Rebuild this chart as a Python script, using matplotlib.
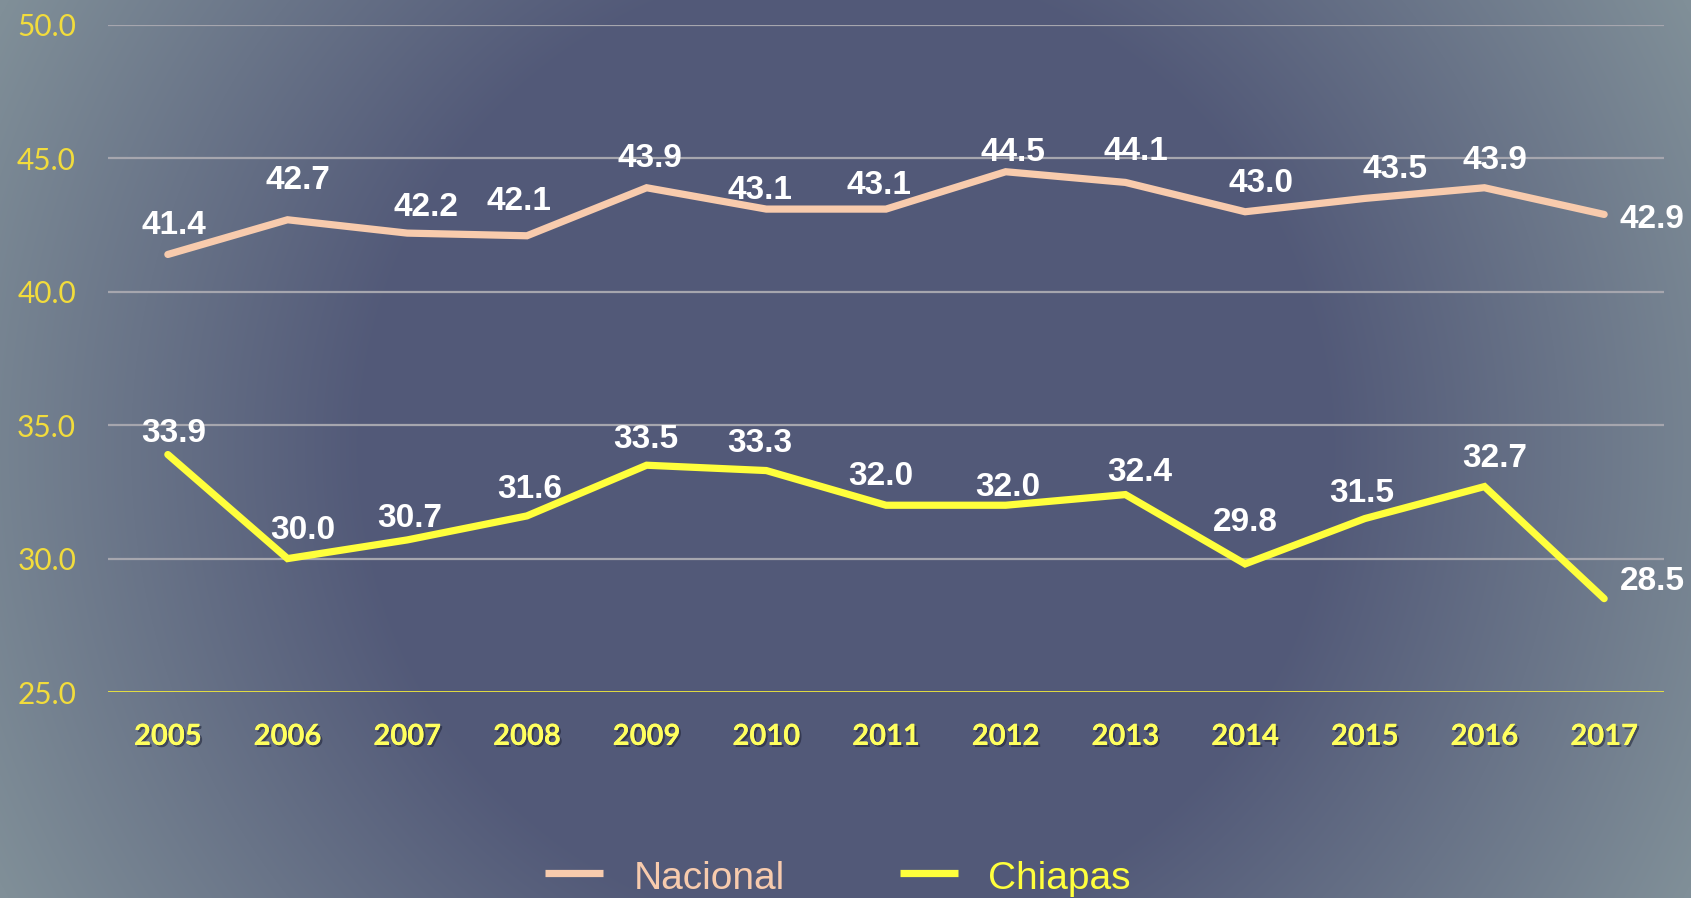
import numpy as np
import matplotlib
matplotlib.use("Agg")
import matplotlib.pyplot as plt
import matplotlib.patheffects as pe
from matplotlib.lines import Line2D

years = ["2005", "2006", "2007", "2008", "2009", "2010", "2011", "2012",
         "2013", "2014", "2015", "2016", "2017"]
nacional = [41.4, 42.7, 42.2, 42.1, 43.9, 43.1, 43.1, 44.5, 44.1, 43.0, 43.5, 43.9, 42.9]
chiapas = [33.9, 30.0, 30.7, 31.6, 33.5, 33.3, 32.0, 32.0, 32.4, 29.8, 31.5, 32.7, 28.5]
yticks = [25.0, 30.0, 35.0, 40.0, 45.0, 50.0]
series_names = ["Nacional", "Chiapas"]

# label placement offsets (pixels, centre of label relative to point; y down)
nac_dx = [6, 10, 19, -8, 3, -6, -7, 7, 10, 16, 30, 10, 15]
nac_dy = [-32, -43, -29, -38, -33, -22, -27, -23, -34, -32, -32, -31, 2]
chi_dx = [6, 15, 2, 3, -1, -7, -5, 2, 14, 0, -3, 10, 16]
chi_dy = [-25, -32, -25, -30, -29, -31, -32, -21, -26, -45, -29, -32, -21]

W, H = 1691, 898
fig = plt.figure(figsize=(W / 100, H / 100), dpi=100)

# background radial gradient
bg = fig.add_axes([0, 0, 1, 1], zorder=-10)
yy, xx = np.mgrid[0:H, 0:W]
d = np.hypot(xx - W * 0.5, yy - H * 0.5)
t = np.clip((d - 480) / 470, 0, 1)[..., None]
c0 = np.array([82, 89, 120]) / 255
c1 = np.array([128, 143, 152]) / 255
img = c0 + t * (c1 - c0)
bg.imshow(img, aspect="auto", extent=[0, 1, 0, 1], origin="upper")
bg.axis("off")

ax = fig.add_axes([108 / W, 1 - 692 / H, (1664 - 108) / W, (692 - 25) / H])
ax.patch.set_alpha(0)
x = np.arange(len(years))

col_nac = "#f8cbad"
col_chi = "#ffff3c"
LW = 5.2
ax.plot(x, nacional, color=col_nac, lw=LW, solid_capstyle="round",
        solid_joinstyle="miter", label=series_names[0], zorder=3)
ax.plot(x, chiapas, color=col_chi, lw=LW, solid_capstyle="round",
        solid_joinstyle="miter", label=series_names[1], zorder=3)

ax.set_xlim(-0.5, len(years) - 0.5)
ax.set_ylim(25, 50)
ax.set_yticks(yticks)
ax.set_yticklabels([f"{v:.1f}" for v in yticks], fontsize=21.5, color="#f2dc3c",
                   family="Lato")
ax.set_xticks(x)
ax.set_xticklabels(years, fontsize=21, color="#ffff5e", family="Lato",
                   fontweight="bold")
for lbl in ax.get_xticklabels():
    lbl.set_path_effects([pe.withSimplePatchShadow(offset=(1.5, -1.5),
                                                   shadow_rgbFace="#1c2034",
                                                   alpha=0.55), pe.Normal()])
ax.tick_params(axis="both", length=0)
ax.tick_params(axis="y", pad=23)
ax.tick_params(axis="x", pad=23)
for s in ax.spines.values():
    s.set_visible(False)
for v in yticks:
    if v == 25:
        ax.axhline(v, color="#f0e83c", lw=2, zorder=1)
    else:
        ax.axhline(v, color="#a6a6ae", lw=1.6, zorder=1)

lab_kw = dict(fontsize=24, fontweight="bold", color="white",
              family="Liberation Sans", zorder=5, annotation_clip=False,
              textcoords="offset pixels", va="baseline")
half_cap = 12
n = len(years)
for series, dxs, dys in ((nacional, nac_dx, nac_dy), (chiapas, chi_dx, chi_dy)):
    for i in range(n):
        v = series[i]
        ha = "left" if i == n - 1 else "center"
        ax.annotate(f"{v:.1f}", (x[i], v), xytext=(dxs[i], -(dys[i] + half_cap)),
                    ha=ha, **lab_kw)

# legend (manual placement)
leg_items = [(series_names[0], col_nac, 545, 634), (series_names[1], col_chi, 900, 988)]
for name, col, lx, tx in leg_items:
    fig.add_artist(Line2D([lx / W, (lx + 58) / W], [1 - 873 / H, 1 - 873 / H],
                          transform=fig.transFigure, color=col, lw=LW,
                          solid_capstyle="butt"))
    fig.text(tx / W, 1 - 889 / H, name, color=col, fontsize=28,
             family="Liberation Sans", ha="left", va="baseline")

fig.savefig("out.png", dpi=100)
